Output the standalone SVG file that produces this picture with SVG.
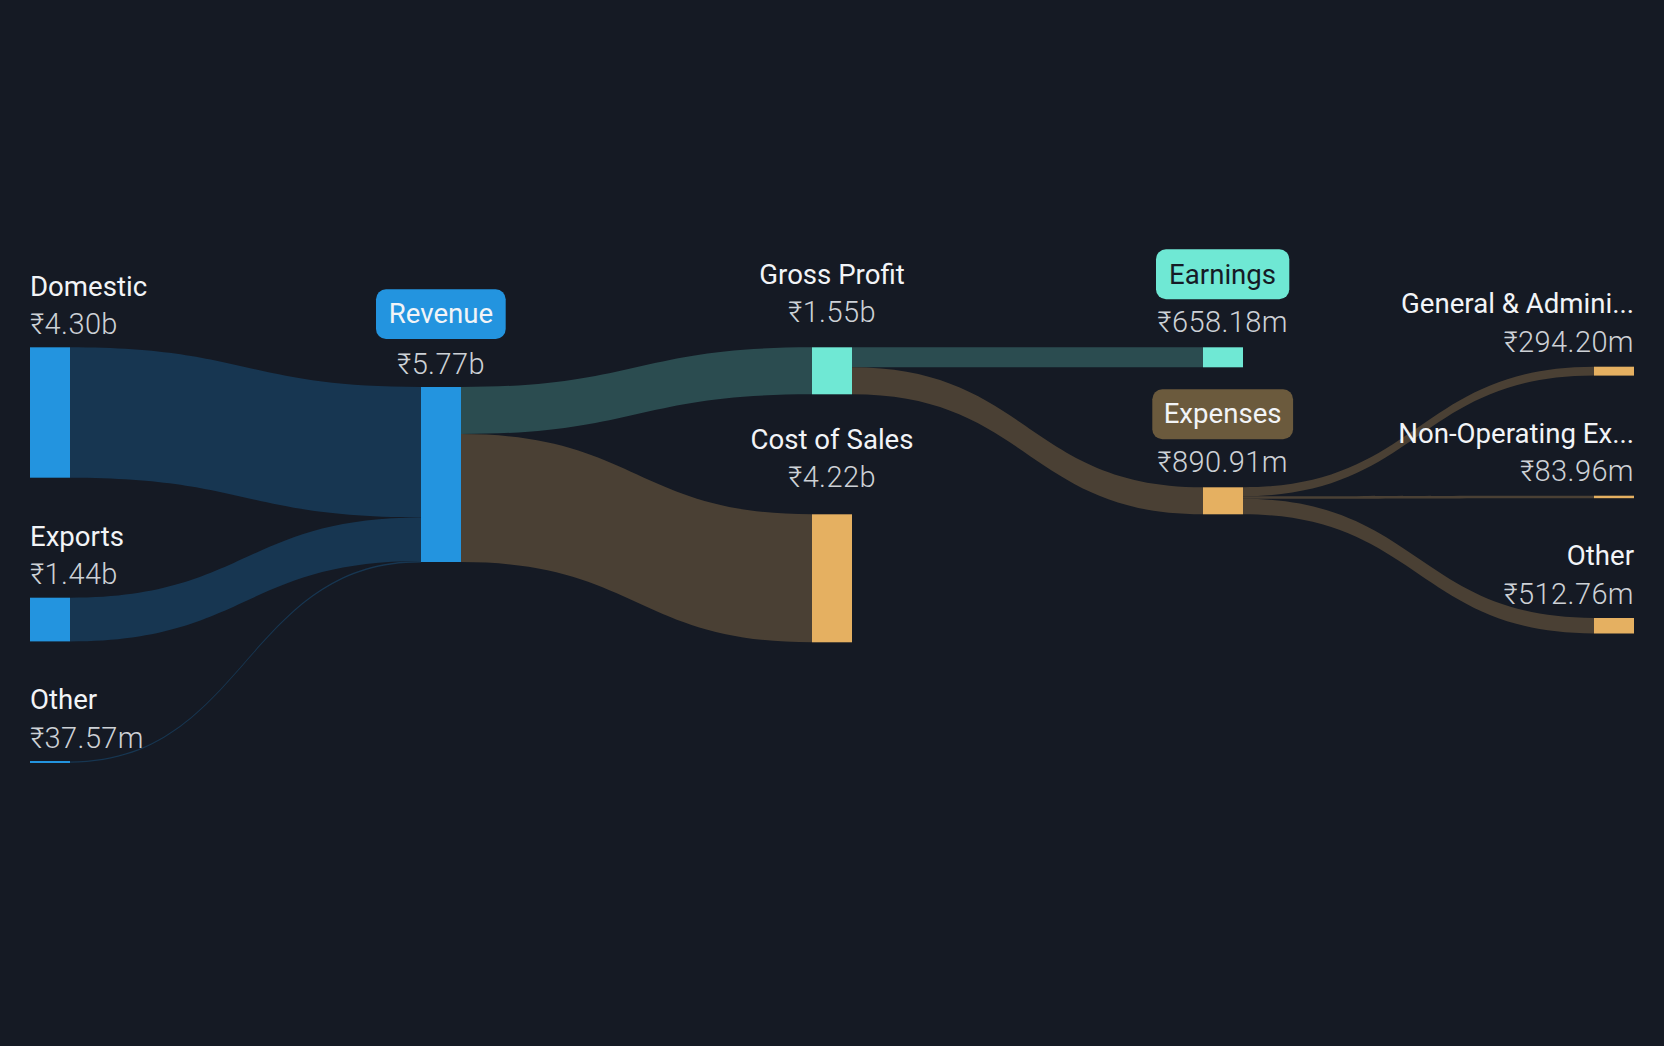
<svg xmlns="http://www.w3.org/2000/svg" width="1664" height="1046" viewBox="0 0 1664 1046">
<style>
.name{font-family:Roboto,"Liberation Sans",sans-serif;font-size:27.6px;fill:#f2f4f7}
.val{font-family:Roboto,"Liberation Sans",sans-serif;font-size:29px;font-weight:300;letter-spacing:0.4px;fill:#cdd1d6}
.mid{text-anchor:middle}
.end{text-anchor:end}
.fb{fill:#173651}
.ft{fill:#2b4c50}
.fo{fill:#4a4034}
.nb{fill:#2394df}
.nt{fill:#6fe8d4}
.no{fill:#e5b061}
</style>
<rect width="1664" height="1046" fill="#151a24"/>
<g id="connectors">
<path class="fb" d="M70 347.3 C245.5 347.3 245.5 387 421 387 L421 517.4 C245.5 517.4 245.5 477.7 70 477.7 Z"/>
<path class="fb" d="M70 597.7 C245.5 597.7 245.5 517.4 421 517.4 L421 561.1 C245.5 561.1 245.5 641.4 70 641.4 Z"/>
<path class="fb" d="M70 761.4 C245.5 761.4 245.5 561.1 421 561.1 L421 562.4 C245.5 562.4 245.5 762.7 70 762.7 Z"/>
<path class="ft" d="M461 387 C636.5 387 636.5 347.3 812 347.3 L812 394.3 C636.5 394.3 636.5 434 461 434 Z"/>
<path class="fo" d="M461 434 C636.5 434 636.5 514.3 812 514.3 L812 642.3 C636.5 642.3 636.5 562 461 562 Z"/>
<path class="ft" d="M852 347.3 L1203 347.3 L1203 367.3 L852 367.3 Z"/>
<path class="fo" d="M852 367.3 C1027.5 367.3 1027.5 487.3 1203 487.3 L1203 514.3 C1027.5 514.3 1027.5 394.3 852 394.3 Z"/>
<path class="fo" d="M1243 487.3 C1418.5 487.3 1418.5 366.7 1594 366.7 L1594 375.6 C1418.5 375.6 1418.5 496.2 1243 496.2 Z"/>
<path class="fo" d="M1243 496.2 C1418.5 496.2 1418.5 495.7 1594 495.7 L1594 498.2 C1418.5 498.2 1418.5 498.8 1243 498.8 Z"/>
<path class="fo" d="M1243 498.8 C1418.5 498.8 1418.5 618 1594 618 L1594 633.5 C1418.5 633.5 1418.5 514.3 1243 514.3 Z"/>
</g>
<g id="domestic">
<rect class="nb" x="30" y="347.3" width="40" height="130.4"/>
<text class="name" x="30" y="296">Domestic</text>
<text class="val" x="30" y="333.5">₹4.30b</text>
</g>
<g id="exports">
<rect class="nb" x="30" y="597.7" width="40" height="43.7"/>
<text class="name" x="30" y="546">Exports</text>
<text class="val" x="30" y="583.5">₹1.44b</text>
</g>
<g id="other-revenue">
<rect class="nb" x="30" y="761" width="40" height="2"/>
<text class="name" x="30" y="709">Other</text>
<text class="val" x="30" y="747.5">₹37.57m</text>
</g>
<g id="revenue">
<rect class="nb" x="421" y="387" width="40" height="175"/>
<rect class="nb" x="376" y="289.3" width="129.7" height="49.7" rx="10"/>
<text class="name mid" x="441" y="323" fill="#ffffff">Revenue</text>
<text class="val mid" x="441" y="373.5">₹5.77b</text>
</g>
<g id="gross-profit">
<rect class="nt" x="812" y="347.3" width="40" height="47"/>
<text class="name mid" x="832" y="284">Gross Profit</text>
<text class="val mid" x="832" y="321.5">₹1.55b</text>
</g>
<g id="cost-of-sales">
<rect class="no" x="812" y="514.3" width="40" height="128"/>
<text class="name mid" x="832" y="449.3">Cost of Sales</text>
<text class="val mid" x="832" y="487.2">₹4.22b</text>
</g>
<g id="earnings">
<rect class="nt" x="1203" y="347.3" width="40" height="20"/>
<rect class="nt" x="1156" y="249.3" width="133.3" height="50" rx="10"/>
<text class="name mid" x="1222.6" y="284" style="fill:#151b26">Earnings</text>
<text class="val mid" x="1222.6" y="332.2">₹658.18m</text>
</g>
<g id="expenses">
<rect class="no" x="1203" y="487.3" width="40" height="27"/>
<rect x="1152.3" y="389.3" width="140.8" height="50" rx="10" fill="#6b5a3d"/>
<text class="name mid" x="1222.6" y="422.7">Expenses</text>
<text class="val mid" x="1222.6" y="472.2">₹890.91m</text>
</g>
<g id="general-admin">
<rect class="no" x="1594" y="366.7" width="40" height="8.9"/>
<text class="name end" x="1634" y="313.3">General &amp; Admini...</text>
<text class="val end" x="1634" y="351.5">₹294.20m</text>
</g>
<g id="non-operating">
<rect class="no" x="1594" y="495.7" width="40" height="2.5"/>
<text class="name end" x="1634" y="442.7">Non-Operating Ex...</text>
<text class="val end" x="1634" y="480.5">₹83.96m</text>
</g>
<g id="other-expenses">
<rect class="no" x="1594" y="618" width="40" height="15.5"/>
<text class="name end" x="1634" y="565">Other</text>
<text class="val end" x="1634" y="603.8">₹512.76m</text>
</g>
</svg>
